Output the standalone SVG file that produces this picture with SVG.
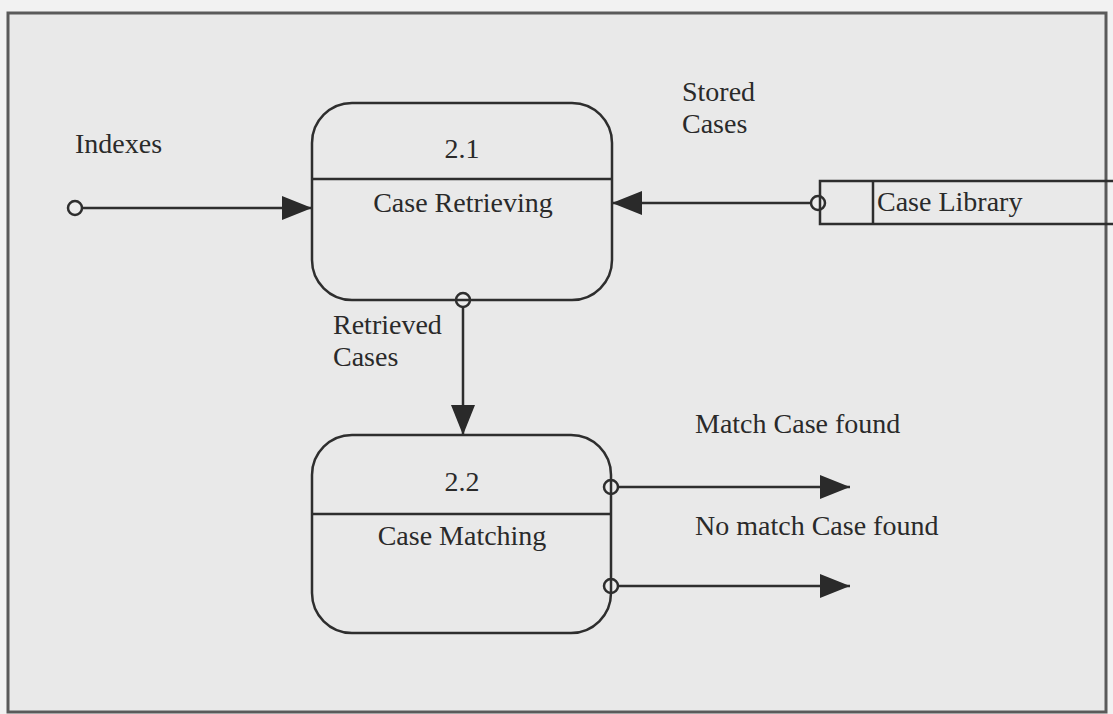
<svg xmlns="http://www.w3.org/2000/svg" width="1113" height="714" viewBox="0 0 1113 714">
<defs>
<marker id="ah" viewBox="0 0 30 24" refX="30" refY="12" markerWidth="30" markerHeight="24" markerUnits="userSpaceOnUse" orient="auto">
<path d="M0,0 L30,12 L0,24 Z" fill="#2a2a2a"/>
</marker>
</defs>
<style>
.t{font-family:"Liberation Serif","Times New Roman",serif;font-size:28px;fill:#2a2a2a}
.ln{stroke:#2e2e2e;stroke-width:2.5;fill:none}
.bx{stroke:#2e2e2e;stroke-width:2.5;fill:none}
.c{stroke:#2e2e2e;stroke-width:2.5;fill:#ececec}
</style>
<rect x="0" y="0" width="1113" height="714" fill="#f2f2f2"/>
<rect x="8" y="13" width="1098" height="699" fill="#e9e9e9" stroke="#5a5a5a" stroke-width="3"/>
<g id="connectors">
<line class="ln" x1="82" y1="208" x2="312" y2="208" marker-end="url(#ah)"/>
<line class="ln" x1="811" y1="203" x2="612" y2="203" marker-end="url(#ah)"/>
<line class="ln" x1="463" y1="307" x2="463" y2="435" marker-end="url(#ah)"/>
<line class="ln" x1="618" y1="487" x2="850" y2="487" marker-end="url(#ah)"/>
<line class="ln" x1="618" y1="586" x2="850" y2="586" marker-end="url(#ah)"/>
<circle class="c" cx="75" cy="208" r="7"/>
<circle class="c" cx="818" cy="203" r="7"/>
<circle class="c" cx="463" cy="300" r="7"/>
<circle class="c" cx="611" cy="487" r="7"/>
<circle class="c" cx="611" cy="586" r="7"/>
<text class="t" x="75" y="153">Indexes</text>
<text class="t" x="682" y="101">Stored</text>
<text class="t" x="682" y="133">Cases</text>
<text class="t" x="333" y="334">Retrieved</text>
<text class="t" x="333" y="366">Cases</text>
<text class="t" x="695" y="433">Match Case found</text>
<text class="t" x="695" y="535">No match Case found</text>
</g>
<g id="p21">
<rect class="bx" x="312" y="103" width="300" height="197" rx="40" ry="40"/>
<line class="ln" x1="312" y1="179" x2="612" y2="179"/>
<text class="t" x="462" y="158" text-anchor="middle">2.1</text>
<text class="t" x="463" y="212" text-anchor="middle">Case Retrieving</text>
</g>
<g id="p22">
<rect class="bx" x="312" y="435" width="299" height="198" rx="40" ry="40"/>
<line class="ln" x1="312" y1="514" x2="611" y2="514"/>
<text class="t" x="462" y="491" text-anchor="middle">2.2</text>
<text class="t" x="462" y="545" text-anchor="middle">Case Matching</text>
</g>
<g id="store">
<path class="bx" d="M1113,181 L820,181 L820,224 L1113,224"/>
<line class="ln" x1="873" y1="181" x2="873" y2="224"/>
<text class="t" x="877" y="211">Case Library</text>
</g>
</svg>
